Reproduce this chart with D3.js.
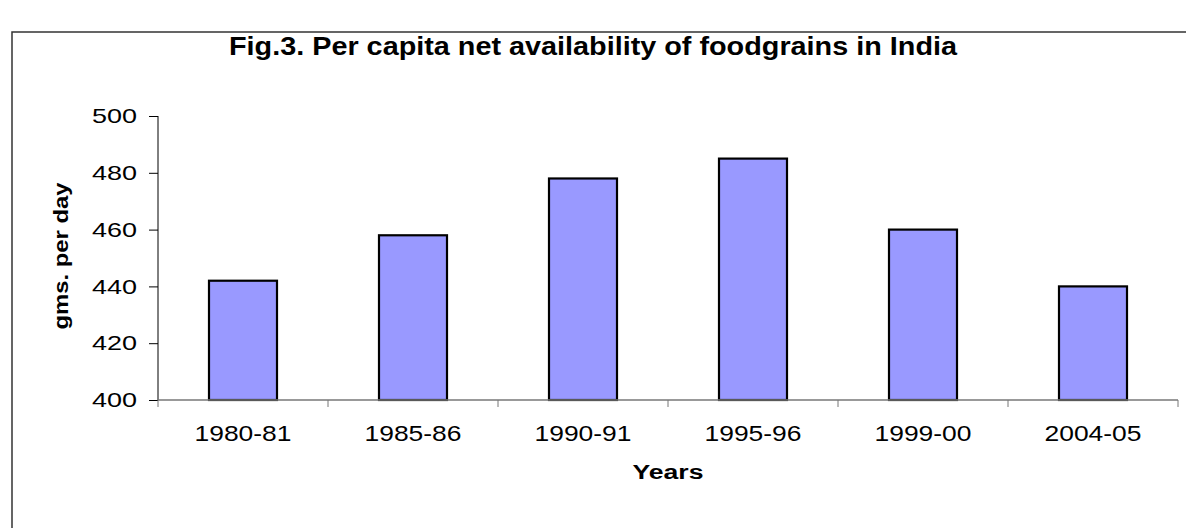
<!DOCTYPE html>
<html><head><meta charset="utf-8">
<script src="https://cdn.jsdelivr.net/npm/d3@7"></script>
<style>body{margin:0;background:#fff}svg{display:block;font-family:"Liberation Sans",Arial,sans-serif}</style>
</head><body>
<svg id="c" width="1186" height="528"></svg>
<script>
const categories = ["1980-81","1985-86","1990-91","1995-96","1999-00","2004-05"];
const values = [442, 458, 478, 485, 460, 440];
const yTicks = [400, 420, 440, 460, 480, 500];
const title = "Fig.3. Per capita net availability of foodgrains in India";
const xTitle = "Years";
const yTitle = "gms. per day";

(function(){
const svg = d3.select("#c");
svg.append("rect").attr("x",12).attr("y",32).attr("width",1190).attr("height",520)
  .attr("fill","#fff").attr("stroke","#333").attr("stroke-width",1.5);

const pL=158, pR=1178, pT=116, pB=400;
const xb = d3.scaleBand().domain(categories).range([pL,pR]);
const y = d3.scaleLinear().domain([400,500]).range([pB,pT]);

svg.append("text").attr("x",593).attr("y",55).attr("text-anchor","middle")
  .attr("font-size",25).attr("font-weight","bold")
  .attr("textLength",728).attr("lengthAdjust","spacingAndGlyphs").text(title);

svg.selectAll("rect.bar").data(values).join("rect").attr("class","bar")
  .attr("x",(d,i)=>xb(categories[i])+xb.bandwidth()*0.3)
  .attr("width",xb.bandwidth()*0.4)
  .attr("y",d=>y(d)).attr("height",d=>pB-y(d))
  .attr("fill","#9999ff").attr("stroke","#000").attr("stroke-width",2.2);

const ya = d3.axisLeft(y).tickValues(yTicks).tickSize(9).tickPadding(12);
const gy = svg.append("g").attr("transform",`translate(${pL},0)`).call(ya);
gy.select(".domain").attr("stroke","#000").attr("d",`M0,${pT}V${pB}`);
gy.selectAll(".tick line").attr("stroke","#000");
gy.selectAll("text").attr("font-size",21).attr("fill","#000")
  .attr("font-family","Liberation Sans, Arial, sans-serif")
  .attr("textLength",45).attr("lengthAdjust","spacingAndGlyphs");

const gx = svg.append("g").attr("transform",`translate(0,${pB})`);
gx.append("line").attr("x1",pL).attr("x2",pR).attr("y1",0).attr("y2",0).attr("stroke","#777").attr("stroke-width",1.5);
const bounds = categories.map(c=>xb(c)).concat([pR]);
gx.selectAll("line.t").data(bounds).join("line").attr("class","t")
  .attr("x1",d=>d).attr("x2",d=>d).attr("y1",0).attr("y2",7).attr("stroke","#777");
gx.selectAll("text").data(categories).join("text")
  .attr("x",d=>xb(d)+xb.bandwidth()/2).attr("y",41).attr("text-anchor","middle")
  .attr("font-size",22).attr("textLength",97).attr("lengthAdjust","spacingAndGlyphs").text(d=>d);

svg.append("text").attr("x",668).attr("y",479).attr("text-anchor","middle")
  .attr("font-size",20).attr("font-weight","bold")
  .attr("textLength",71).attr("lengthAdjust","spacingAndGlyphs").text(xTitle);
svg.append("text").attr("transform","translate(68,256) rotate(-90)").attr("text-anchor","middle")
  .attr("font-size",20).attr("font-weight","bold")
  .attr("textLength",147).attr("lengthAdjust","spacingAndGlyphs").text(yTitle);
})();
</script>
</body></html>
